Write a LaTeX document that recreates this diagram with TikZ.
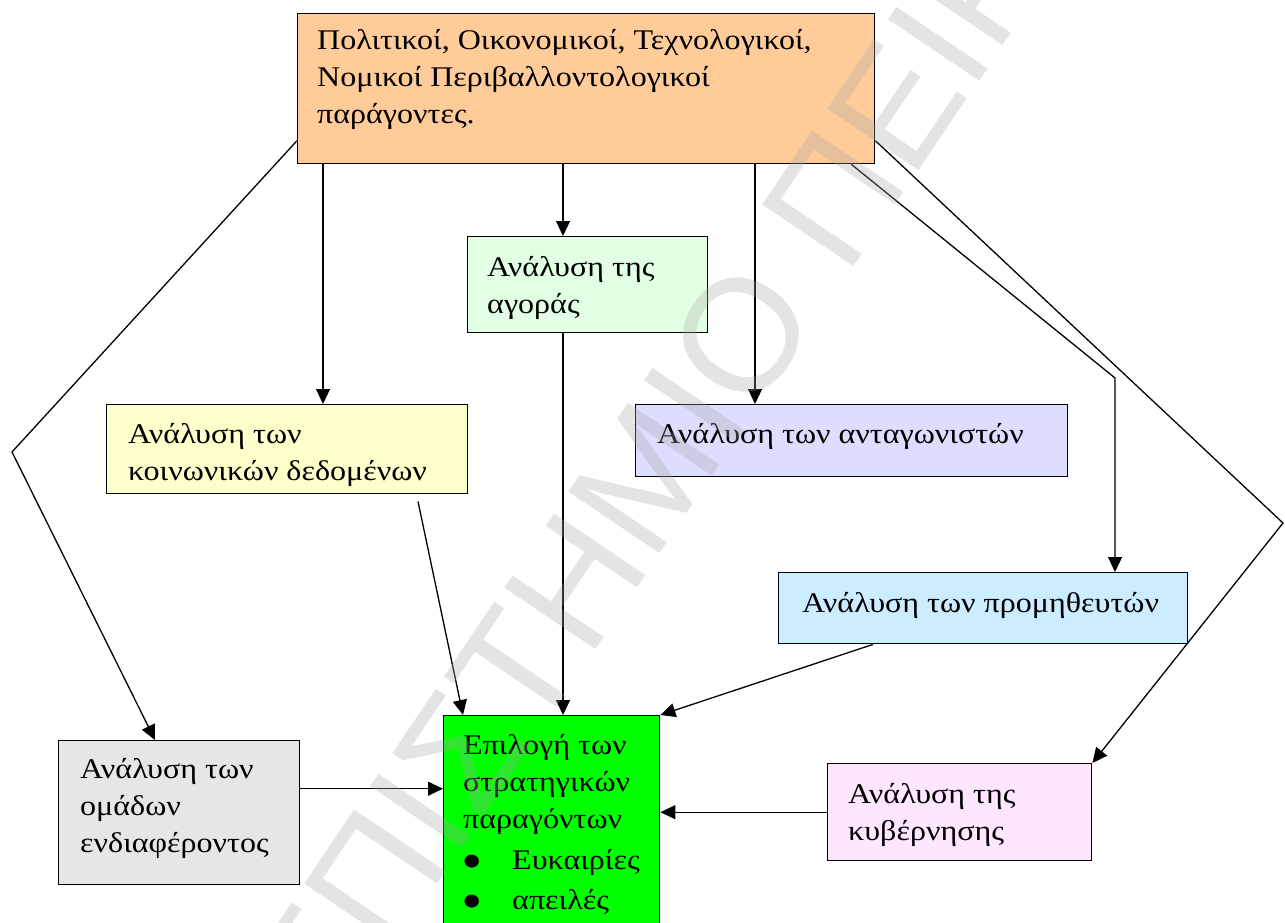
\documentclass[tikz,border=0pt]{standalone}
\usepackage{fontspec}
\setmainfont[FakeStretch=1.125]{Liberation Serif}
\newfontfamily\wmfont{Liberation Sans}
\usetikzlibrary{arrows.meta,calc}

\definecolor{cTop}{HTML}{FFCC99}
\definecolor{cMarket}{HTML}{E3FFE3}
\definecolor{cSocial}{HTML}{FFFFCC}
\definecolor{cRival}{HTML}{DDDDFF}
\definecolor{cSupply}{HTML}{CCECFF}
\definecolor{cGov}{HTML}{FFE6FF}
\definecolor{cGroup}{HTML}{E6E6E6}
\definecolor{cChoice}{HTML}{00FF00}
\definecolor{cMark}{RGB}{166,166,166}

\newcommand\celltext[2]{\parbox[t]{#1}{\fontsize{28.5}{37}\selectfont\raggedright #2}}
\newcommand\bigdot{\makebox[49pt][l]{\hspace*{-2pt}\raisebox{-10pt}{\scalebox{1.9}{•}}}}

\begin{document}
\begin{tikzpicture}[x=1pt,y=-1pt,
  box/.style={draw=black, line width=1.4pt, rectangle, inner sep=0pt, anchor=north west},
  lbl/.style={anchor=base west, inner sep=0pt},
  link/.style={draw=black, line width=1.3pt},
  arr/.style={link, -{Triangle[length=15pt,width=14pt]}},
  wm/.style={inner sep=0pt, rotate=56, text=cMark, fill opacity=0.3, text opacity=0.3,
             font=\wmfont\fontsize{160}{160}\selectfont}
]
\useasboundingbox (0,0) rectangle (1285,923);
\clip (0,0) rectangle (1285,923);

% boxes
\node[box, fill=cTop,    minimum width=577pt, minimum height=150pt] (top)    at (297,13)  {};
\node[box, fill=cMarket, minimum width=240pt, minimum height=96pt]  (market) at (467,236) {};
\node[box, fill=cSocial, minimum width=361pt, minimum height=89pt]  (social) at (106,404) {};
\node[box, fill=cRival,  minimum width=432pt, minimum height=72pt]  (rival)  at (635,404) {};
\node[box, fill=cSupply, minimum width=409pt, minimum height=71pt]  (supply) at (778,572) {};
\node[box, fill=cGroup,  minimum width=241pt, minimum height=144pt] (group)  at (58,740)  {};
\node[box, fill=cGov,    minimum width=264pt, minimum height=97pt]  (gov)    at (827,763) {};
\node[box, fill=cChoice, minimum width=216pt, minimum height=230pt] (choice) at (443,715) {};

% box texts
\node[lbl] (topT) at (317,50)
  {\celltext{560pt}{Πολιτικοί, Οικονομικοί, Τεχνολογικοί,\\Νομικοί Περιβαλλοντολογικοί\\παράγοντες.}};
\node[lbl] (marketT) at (487,276) {\celltext{220pt}{Ανάλυση της\\αγοράς}};
\node[lbl] (socialT) at (128,443) {\celltext{340pt}{Ανάλυση των\\κοινωνικών δεδομένων}};
\node[lbl] (rivalT)  at (657,443) {\celltext{410pt}{Ανάλυση των ανταγωνιστών}};
\node[lbl] (supplyT) at (802,612) {\celltext{385pt}{Ανάλυση των προμηθευτών}};
\node[lbl] (groupT)  at (80,778)  {\celltext{215pt}{Ανάλυση των\\ομάδων\\ενδιαφέροντος}};
\node[lbl] (govT)    at (848,803) {\celltext{240pt}{Ανάλυση της\\κυβέρνησης}};
\node[lbl] (choiceT) at (463,754) {\celltext{200pt}{Επιλογή των\\στρατηγικών\\παραγόντων\\[4pt]%
  \bigdot Ευκαιρίες\\[3pt]\bigdot απειλές}};

% bend points
\coordinate (leftBend)  at (12,452);
\coordinate (rightBend) at (1283,523);
\coordinate (supBend)   at (1115,378);

% connectors
\draw[arr] ([xshift=26pt]top.south west) -- ([xshift=217pt]social.north west);
\draw[arr] ([xshift=266pt]top.south west) -- ([xshift=96pt]market.north west);
\draw[arr] ([xshift=458pt]top.south west) -- ([xshift=120pt]rival.north west);
\draw[arr] ([xshift=96pt]market.south west) -- ([xshift=120pt]choice.north west);
\draw[arr] ([xshift=312pt,yshift=-7pt]social.south west) -- ([xshift=20pt]choice.north west);
\draw[arr] ([xshift=95pt]supply.south west) -- (choice.north east);
\draw[arr] ([yshift=24pt]group.east) -- ([yshift=24pt]group.east -| choice.west);
\draw[arr] (gov.west) -- (gov.west -| choice.east);
\draw[arr] ([yshift=-52pt]top.west) -- (leftBend) -- ([xshift=97pt]group.north west);
\draw[arr] ([yshift=-52pt]top.east) -- (rightBend) -- (gov.north east);
\draw[arr] ([xshift=-24pt]top.south east) -- (supBend) -- (supBend |- supply.north);

% translucent lettering across the sheet
\node[wm, anchor=base east] (markA) at (822,314) {ΠΑΝΕΠΙΣΤΗΜΙΟ};
\node[wm, anchor=base west] (markB) at ([shift={(56:44pt)}]markA.base east) {ΠΕΙΡΑΙΩΣ};
\end{tikzpicture}
\end{document}
